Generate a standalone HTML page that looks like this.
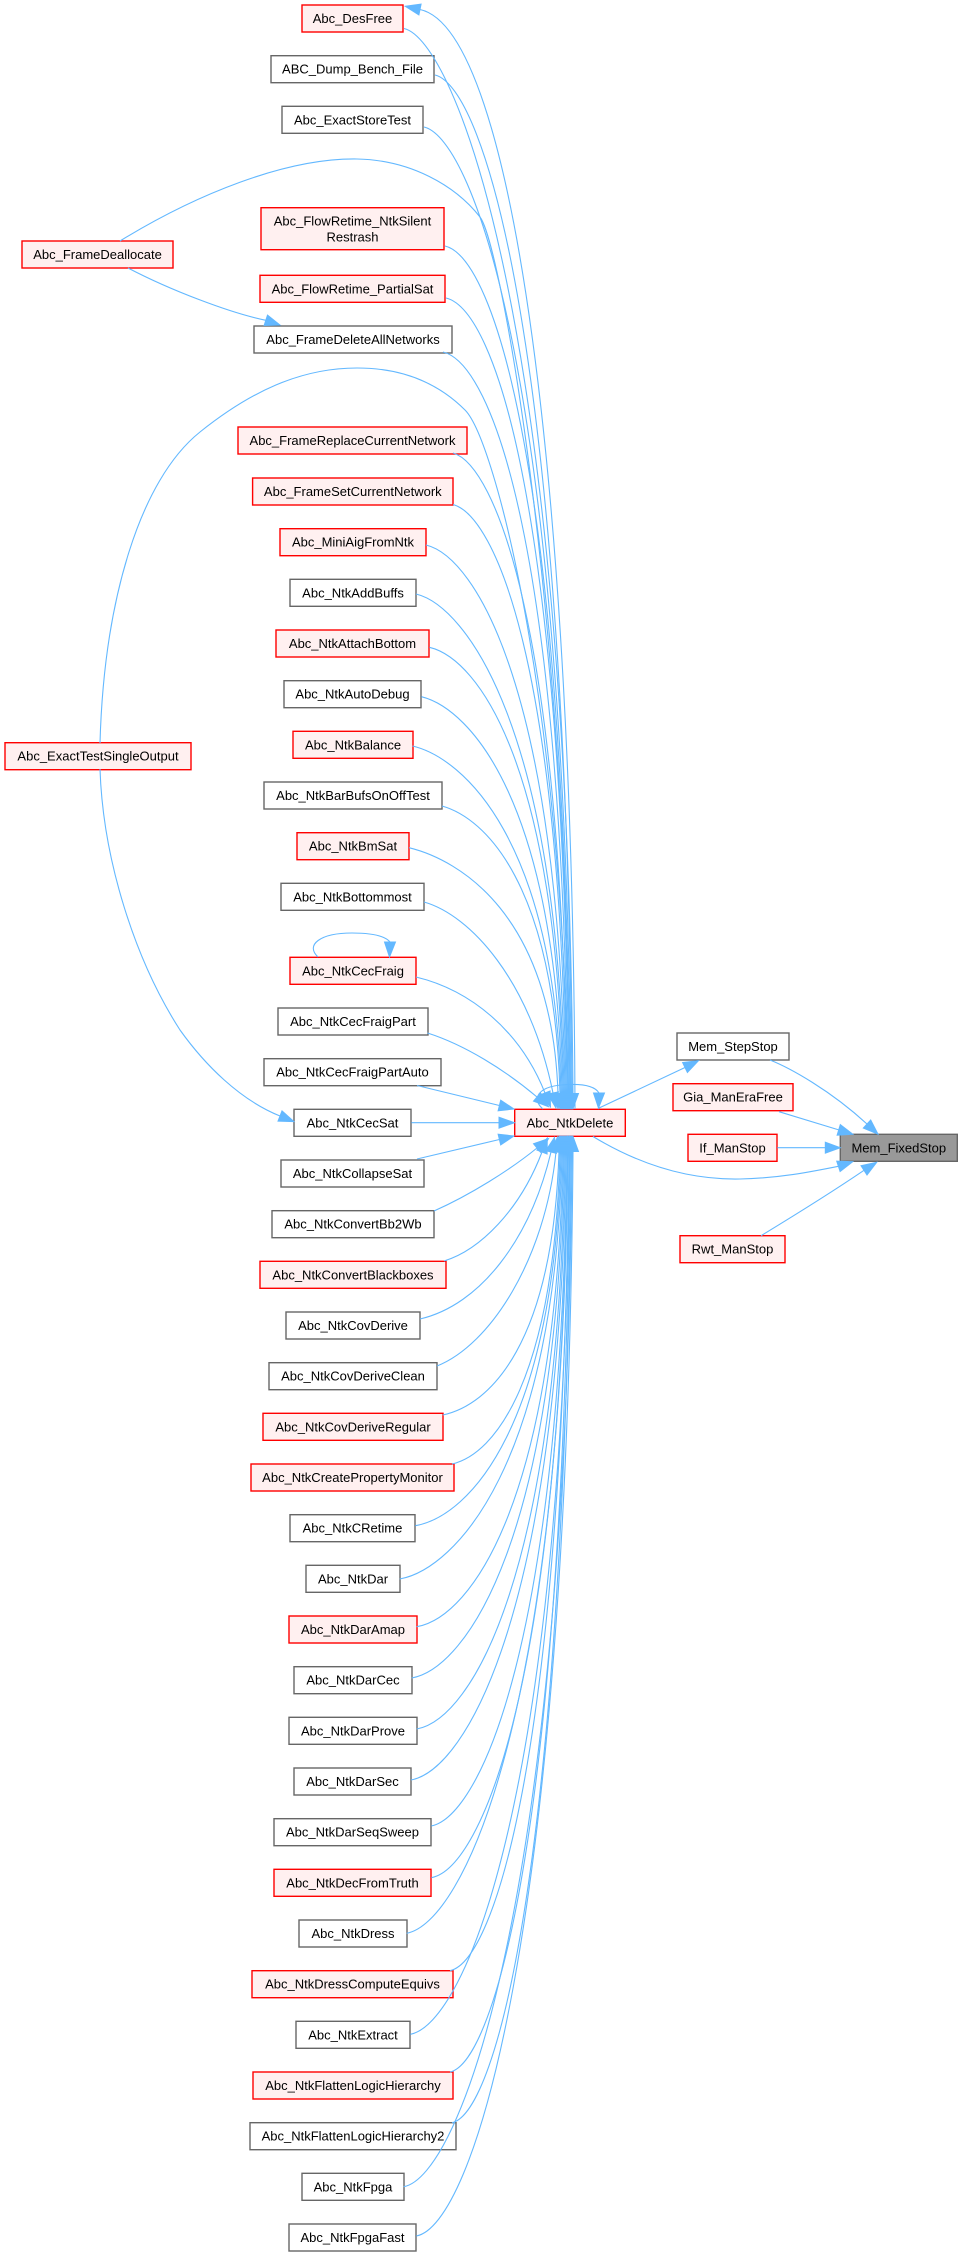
<!DOCTYPE html>
<html><head><meta charset="utf-8"><style>
html,body{margin:0;padding:0;background:#fff;}
svg{display:block;}
text{font-family:"Liberation Sans",Arial,sans-serif;font-size:13px;fill:#000;text-anchor:middle;}
.r{fill:#fff0f0;stroke:#ff0000;stroke-width:1.4;}
.g{fill:#ffffff;stroke:#666666;stroke-width:1.4;}
.k{fill:#999999;stroke:#666666;stroke-width:1.4;}
.e{fill:none;stroke:#63b8ff;stroke-width:1.1;}
.a{fill:#63b8ff;stroke:#63b8ff;stroke-width:1;}
</style></head><body>
<svg width="962" height="2256" viewBox="0 0 962 2256" xmlns="http://www.w3.org/2000/svg">
<rect x="0" y="0" width="962" height="2256" fill="#fff"/>

<!-- upper column boxes -->
<rect class="r" x="302" y="5" width="101" height="27"/><text x="352.5" y="23">Abc_DesFree</text>
<rect class="g" x="271" y="55.7" width="163" height="27"/><text x="352.5" y="73.7">ABC_Dump_Bench_File</text>
<rect class="g" x="282" y="106.3" width="141" height="27"/><text x="352.5" y="124.3">Abc_ExactStoreTest</text>
<rect class="r" x="261" y="207.7" width="183" height="42"/><text x="352.5" y="225.5">Abc_FlowRetime_NtkSilent</text><text x="352.5" y="241.5">Restrash</text>
<rect class="r" x="260" y="275.3" width="185" height="27"/><text x="352.5" y="293.3">Abc_FlowRetime_PartialSat</text>
<rect class="g" x="254" y="326" width="198" height="27"/><text x="353" y="344">Abc_FrameDeleteAllNetworks</text>
<rect class="r" x="238" y="427" width="229" height="27"/><text x="352.5" y="445">Abc_FrameReplaceCurrentNetwork</text>
<rect class="r" x="252.6" y="478" width="200.4" height="27"/><text x="352.8" y="496">Abc_FrameSetCurrentNetwork</text>
<rect class="r" x="280" y="528.7" width="146" height="27"/><text x="353" y="546.7">Abc_MiniAigFromNtk</text>
<rect class="g" x="290" y="579.3" width="126" height="27"/><text x="353" y="597.3">Abc_NtkAddBuffs</text>
<rect class="r" x="276" y="630" width="153" height="27"/><text x="352.5" y="648">Abc_NtkAttachBottom</text>
<rect class="g" x="284" y="680.7" width="137" height="27"/><text x="352.5" y="698.7">Abc_NtkAutoDebug</text>
<rect class="r" x="293" y="731.3" width="120" height="27"/><text x="353" y="749.3">Abc_NtkBalance</text>
<rect class="g" x="264" y="782" width="178" height="27"/><text x="353" y="800">Abc_NtkBarBufsOnOffTest</text>
<rect class="r" x="297" y="832.7" width="112" height="27"/><text x="353" y="850.7">Abc_NtkBmSat</text>
<rect class="g" x="281" y="883.3" width="143" height="27"/><text x="352.5" y="901.3">Abc_NtkBottommost</text>

<!-- lower column boxes -->
<rect class="r" x="290" y="957.3" width="126" height="27"/><text x="353" y="975.3">Abc_NtkCecFraig</text>
<rect class="g" x="278" y="1008" width="150" height="27"/><text x="353" y="1026">Abc_NtkCecFraigPart</text>
<rect class="g" x="264" y="1058.7" width="177" height="27"/><text x="352.5" y="1076.7">Abc_NtkCecFraigPartAuto</text>
<rect class="g" x="294" y="1109.3" width="117" height="27"/><text x="352.5" y="1127.3">Abc_NtkCecSat</text>
<rect class="g" x="281" y="1160" width="143" height="27"/><text x="352.5" y="1178">Abc_NtkCollapseSat</text>
<rect class="g" x="272" y="1210.7" width="162" height="27"/><text x="353" y="1228.7">Abc_NtkConvertBb2Wb</text>
<rect class="r" x="260" y="1261.3" width="186" height="27"/><text x="353" y="1279.3">Abc_NtkConvertBlackboxes</text>
<rect class="g" x="286" y="1312" width="134" height="27"/><text x="353" y="1330">Abc_NtkCovDerive</text>
<rect class="g" x="269" y="1362.7" width="168" height="27"/><text x="353" y="1380.7">Abc_NtkCovDeriveClean</text>
<rect class="r" x="263" y="1413.3" width="180" height="27"/><text x="353" y="1431.3">Abc_NtkCovDeriveRegular</text>
<rect class="r" x="251" y="1464" width="203" height="27"/><text x="352.5" y="1482">Abc_NtkCreatePropertyMonitor</text>
<rect class="g" x="290" y="1514.7" width="125" height="27"/><text x="352.5" y="1532.7">Abc_NtkCRetime</text>
<rect class="g" x="306" y="1565.3" width="94" height="27"/><text x="353" y="1583.3">Abc_NtkDar</text>
<rect class="r" x="289" y="1616" width="128" height="27"/><text x="353" y="1634">Abc_NtkDarAmap</text>
<rect class="g" x="294" y="1666.7" width="118" height="27"/><text x="353" y="1684.7">Abc_NtkDarCec</text>
<rect class="g" x="289" y="1717.3" width="128" height="27"/><text x="353" y="1735.3">Abc_NtkDarProve</text>
<rect class="g" x="294" y="1768" width="117" height="27"/><text x="352.5" y="1786">Abc_NtkDarSec</text>
<rect class="g" x="274" y="1818.7" width="157" height="27"/><text x="352.5" y="1836.7">Abc_NtkDarSeqSweep</text>
<rect class="r" x="274" y="1869.3" width="157" height="27"/><text x="352.5" y="1887.3">Abc_NtkDecFromTruth</text>
<rect class="g" x="299" y="1920" width="108" height="27"/><text x="353" y="1938">Abc_NtkDress</text>
<rect class="r" x="252" y="1970.7" width="201" height="27"/><text x="352.5" y="1988.7">Abc_NtkDressComputeEquivs</text>
<rect class="g" x="296" y="2021.3" width="114" height="27"/><text x="353" y="2039.3">Abc_NtkExtract</text>
<rect class="r" x="253" y="2072" width="200" height="27"/><text x="353" y="2090">Abc_NtkFlattenLogicHierarchy</text>
<rect class="g" x="250" y="2122.7" width="206" height="27"/><text x="353" y="2140.7">Abc_NtkFlattenLogicHierarchy2</text>
<rect class="g" x="302" y="2173.3" width="102" height="27"/><text x="353" y="2191.3">Abc_NtkFpga</text>
<rect class="g" x="289" y="2224" width="127" height="27"/><text x="352.5" y="2242">Abc_NtkFpgaFast</text>

<!-- far left -->
<rect class="r" x="22" y="241" width="151" height="27"/><text x="97.5" y="259">Abc_FrameDeallocate</text>
<rect class="r" x="5" y="742.7" width="186" height="27"/><text x="98" y="760.7">Abc_ExactTestSingleOutput</text>

<!-- middle / right -->
<rect class="r" x="514.7" y="1109.3" width="110.6" height="27"/><text x="570" y="1127.3">Abc_NtkDelete</text>
<rect class="g" x="677" y="1033" width="112" height="27"/><text x="733" y="1051">Mem_StepStop</text>
<rect class="r" x="673" y="1083.7" width="120" height="27"/><text x="733" y="1101.7">Gia_ManEraFree</text>
<rect class="r" x="688" y="1134.3" width="89" height="27"/><text x="732.5" y="1152.3">If_ManStop</text>
<rect class="r" x="680" y="1235.7" width="105" height="27"/><text x="732.5" y="1253.7">Rwt_ManStop</text>
<rect class="k" x="840.3" y="1134.3" width="117" height="27"/><text x="898.8" y="1152.3">Mem_FixedStop</text>

<!-- upper edges into Abc_NtkDelete -->
<path class="e" d="M575,1109 C573,500 515,30 420,9.5"/>
<polygon class="a" points="405.3,6.3 421.1,4.1 418.9,14.9"/>
<path class="e" d="M404,28.5 C454,40 567,316 573,1093.5"/>
<path class="e" d="M435,75 C485,87 566,350 572,1093.5"/>
<path class="e" d="M424,127 C474,139 565,388 571,1093.5"/>
<path class="e" d="M120,241 C195,195 285,158 357,159 C410,160 455,185 480,217 C500,243 566,600 570,1093.5"/>
<path class="e" d="M445,246 C495,258 564,475 570,1093.5"/>
<path class="e" d="M446,298 C496,310 563,513 569,1093.5"/>
<path class="e" d="M443,352 C493,364 562,552 568,1093.5"/>
<path class="e" d="M100,743 C104,600 140,480 200,432 C250,392 300,368 357,368 C405,368 440,385 465,410 C495,440 562,700 568,1093.5"/>
<path class="e" d="M453,453 C495,465 561,626 567,1093.5"/>
<path class="e" d="M453,504.5 C495,516 560,663.5 566,1093.5"/>
<path class="e" d="M426,545 C476,557 559,693 565,1093.5"/>
<path class="e" d="M416,594 C466,606 558,729 564,1093.5"/>
<path class="e" d="M429.4,647.3 C479,659 557,768 563,1093.5"/>
<path class="e" d="M421.4,696.7 C471,709 556,804 562,1093.5"/>
<path class="e" d="M412.6,746 C463,758 555,840 561,1093.5"/>
<path class="e" d="M442,806 C485,818 554,884 560,1093.5"/>
<path class="e" d="M409,847.7 C459,860 552,914 558,1093.5"/>
<path class="e" d="M424,902 C470,915 530,980 553,1093"/>
<path class="e" d="M416,977 C470,990 520,1030 545,1093"/>
<path class="e" d="M427.5,1033 C465,1045 505,1070 537,1097"/>
<!-- upper arrowheads -->
<polygon class="a" points="567.5,1093.5 578.5,1093.5 573,1108.5"/>
<polygon class="a" points="566.5,1093.5 577.5,1093.5 572,1108.5"/>
<polygon class="a" points="565.5,1093.5 576.5,1093.5 571,1108.5"/>
<polygon class="a" points="564.5,1093.5 575.5,1093.5 570,1108.5"/>
<polygon class="a" points="563.5,1093.5 574.5,1093.5 569,1108.5"/>
<polygon class="a" points="562.5,1093.5 573.5,1093.5 568,1108.5"/>
<polygon class="a" points="561.5,1093.5 572.5,1093.5 567,1108.5"/>
<polygon class="a" points="560.5,1093.5 571.5,1093.5 566,1108.5"/>
<polygon class="a" points="559.5,1093.5 570.5,1093.5 565,1108.5"/>
<polygon class="a" points="558.5,1093.5 569.5,1093.5 564,1108.5"/>
<polygon class="a" points="557.5,1093.5 568.5,1093.5 563,1108.5"/>
<polygon class="a" points="556.5,1093.5 567.5,1093.5 562,1108.5"/>
<polygon class="a" points="555.5,1093.5 566.5,1093.5 561,1108.5"/>
<polygon class="a" points="554.5,1093.5 565.5,1093.5 560,1108.5"/>
<polygon class="a" points="552.5,1093.5 563.5,1093.5 558,1108.5"/>
<polygon class="a" points="558.4,1091.9 547.6,1094.1 556,1108"/>
<polygon class="a" points="550.1,1091 539.9,1095 550.5,1106.9"/>
<polygon class="a" points="540.5,1092.8 533.5,1101.2 548.5,1106.7"/>

<!-- CecFraig self loop -->
<path class="e" d="M318,957 C305,945 320,933 352,933 C372,933 385,936 390,942"/>
<polygon class="a" points="384.5,942 395.5,942 389.5,957"/>

<!-- straight edges into left side of NtkDelete -->
<path class="e" d="M417,1085.5 L499.4,1105.5"/>
<polygon class="a" points="514,1109 498.1,1110.8 500.7,1100.2"/>
<path class="e" d="M411.4,1122.7 L499,1122.7"/>
<polygon class="a" points="514.5,1122.7 499,1117.2 499,1128.2"/>
<path class="e" d="M417,1159 L499.4,1139.5"/>
<polygon class="a" points="514,1136 500.7,1144.9 498.1,1134.2"/>

<!-- lower edges into Abc_NtkDelete -->
<path class="e" d="M434,1211 C470,1195 510,1170 537,1148"/>
<polygon class="a" points="548.6,1138.5 540.5,1152.3 533.5,1143.7"/>
<path class="e" d="M444,1261 C480,1250 520,1210 542,1152"/>
<polygon class="a" points="547.3,1138 547.1,1154 536.9,1150"/>
<path class="e" d="M420,1319 C480,1305 530,1240 551,1152"/>
<polygon class="a" points="554.5,1137.4 556.4,1153.3 545.7,1150.7"/>
<path class="e" d="M437,1366 C490,1345 545,1260 556,1152"/>
<polygon class="a" points="557.5,1137.1 561.5,1152.6 550.5,1151.4"/>
<path class="e" d="M442.7,1415 C490,1405 553,1344 559,1151.5"/>
<path class="e" d="M452,1464 C495,1454 554,1380 560,1151.5"/>
<path class="e" d="M415.3,1525.7 C470,1516 555,1425 561,1151.5"/>
<path class="e" d="M399.7,1579 C455,1569 556,1464 562,1151.5"/>
<path class="e" d="M416.7,1626.7 C472,1617 557,1498 563,1151.5"/>
<path class="e" d="M411.7,1678 C467,1668 558,1536 564,1151.5"/>
<path class="e" d="M416.7,1729 C472,1719 559,1573 565,1151.5"/>
<path class="e" d="M411,1780 C466,1770 560,1610 566,1151.5"/>
<path class="e" d="M431.3,1826 C480,1816 561,1644 567,1151.5"/>
<path class="e" d="M431.3,1877.7 C482,1868 561.5,1682 567.5,1151.5"/>
<path class="e" d="M406.7,1933.3 C462,1923 562,1722 568,1151.5"/>
<path class="e" d="M450,1970.7 C495,1961 563,1750 569,1151.5"/>
<path class="e" d="M410.3,2034.3 C465,2024 563.5,1796 569.5,1151.5"/>
<path class="e" d="M450,2072 C495,2062 564,1823.5 570,1151.5"/>
<path class="e" d="M452,2122.7 C497,2113 565,1860.5 571,1151.5"/>
<path class="e" d="M403.7,2186.7 C459,2177 566,1907 572,1151.5"/>
<path class="e" d="M416.3,2236 C472,2226 567,1943 573,1151.5"/>
<polygon class="a" points="553.5,1151.5 564.5,1151.5 559,1136.5"/>
<polygon class="a" points="554.5,1151.5 565.5,1151.5 560,1136.5"/>
<polygon class="a" points="555.5,1151.5 566.5,1151.5 561,1136.5"/>
<polygon class="a" points="556.5,1151.5 567.5,1151.5 562,1136.5"/>
<polygon class="a" points="557.5,1151.5 568.5,1151.5 563,1136.5"/>
<polygon class="a" points="558.5,1151.5 569.5,1151.5 564,1136.5"/>
<polygon class="a" points="559.5,1151.5 570.5,1151.5 565,1136.5"/>
<polygon class="a" points="560.5,1151.5 571.5,1151.5 566,1136.5"/>
<polygon class="a" points="561.5,1151.5 572.5,1151.5 567,1136.5"/>
<polygon class="a" points="562,1151.5 573,1151.5 567.5,1136.5"/>
<polygon class="a" points="562.5,1151.5 573.5,1151.5 568,1136.5"/>
<polygon class="a" points="563.5,1151.5 574.5,1151.5 569,1136.5"/>
<polygon class="a" points="564,1151.5 575,1151.5 569.5,1136.5"/>
<polygon class="a" points="564.5,1151.5 575.5,1151.5 570,1136.5"/>
<polygon class="a" points="565.5,1151.5 576.5,1151.5 571,1136.5"/>
<polygon class="a" points="566.5,1151.5 577.5,1151.5 572,1136.5"/>
<polygon class="a" points="567.5,1151.5 578.5,1151.5 573,1136.5"/>

<!-- NtkDelete self loop -->
<path class="e" d="M543,1109 C532,1100 535,1085 570,1084.5 C588,1084 596,1088 599,1093"/>
<polygon class="a" points="593.5,1093 604.5,1093 598.5,1108"/>

<!-- FrameDeallocate -> FrameDeleteAllNetworks -->
<path class="e" d="M128,268 C170,290 230,313 265.8,320.3"/>
<polygon class="a" points="280,325 264.1,325.5 267.5,315.1"/>

<!-- ExactTestSingleOutput -> CecSat -->
<path class="e" d="M100,769 C103,860 135,960 180,1030 C205,1065 240,1100 280,1116"/>
<polygon class="a" points="293.9,1121.6 278,1121.1 282,1110.9"/>

<!-- NtkDelete -> Mem_StepStop -->
<path class="e" d="M598,1108.5 L685,1067.5"/>
<polygon class="a" points="698.5,1060.7 687.4,1072.5 682.6,1062.5"/>

<!-- NtkDelete -> Mem_FixedStop -->
<path class="e" d="M593,1136.5 C640,1165 690,1180 740,1179 C780,1178 810,1172 838.4,1166.3"/>
<polygon class="a" points="852.7,1161.7 840.1,1171.5 836.7,1161.1"/>

<!-- Mem_StepStop -> Mem_FixedStop -->
<path class="e" d="M770,1060 C790,1068 830,1090 867,1124"/>
<polygon class="a" points="878,1134.2 863.3,1128.1 870.7,1120"/>

<!-- Gia_ManEraFree -> Mem_FixedStop -->
<path class="e" d="M779,1111.7 L838.7,1129.9"/>
<polygon class="a" points="853,1134.3 837.1,1135.2 840.3,1124.6"/>

<!-- If_ManStop -> Mem_FixedStop -->
<path class="e" d="M777.3,1147.7 L825.3,1147.7"/>
<polygon class="a" points="840.3,1147.7 825.3,1142.2 825.3,1153.2"/>

<!-- Rwt_ManStop -> Mem_FixedStop -->
<path class="e" d="M761,1235.7 C800,1212 835,1190 864,1170.3"/>
<polygon class="a" points="876.7,1162.3 867,1175 861,1165.7"/>
</svg>
</body></html>
